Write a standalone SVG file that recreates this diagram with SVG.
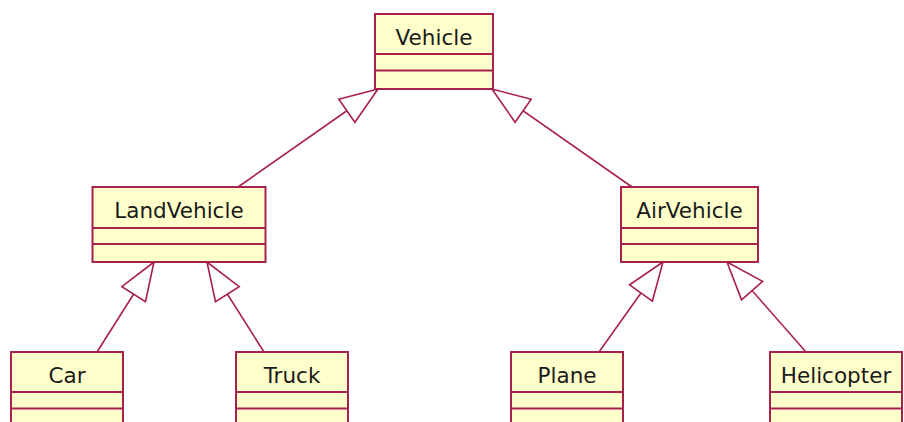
<svg xmlns="http://www.w3.org/2000/svg" width="904" height="422" viewBox="0 0 904 422">
<style>
.box{fill:#FFFFCC;stroke:#A8204E;stroke-width:2}
.div{stroke:#A8204E;stroke-width:2}
.lbl{font-family:"DejaVu Sans",Verdana,sans-serif;font-size:21.5px;fill:#1a1a1a;text-anchor:middle}
.conn{fill:none;stroke:#A8204E;stroke-width:1.6;marker-end:url(#gen)}
</style>
<defs>
<marker id="gen" markerUnits="userSpaceOnUse" markerWidth="40" markerHeight="30" refX="38" refY="15" orient="auto" overflow="visible">
<path d="M38,15 L0,1 L0,29 Z" fill="#FFFFFF" stroke="#A8204E" stroke-width="1.6" stroke-linejoin="miter"/>
</marker>
</defs>
<g id="connectors">
<line class="conn" x1="238" y1="187" x2="378" y2="89"/>
<line class="conn" x1="632" y1="187" x2="492" y2="89"/>
<line class="conn" x1="97" y1="352" x2="154" y2="262"/>
<line class="conn" x1="264" y1="352" x2="207" y2="262"/>
<line class="conn" x1="599" y1="352" x2="663" y2="262"/>
<line class="conn" x1="806" y1="352" x2="727" y2="262"/>
</g>
<g id="Vehicle">
<rect class="box" x="375" y="14" width="118" height="75"/>
<line class="div" x1="375" y1="54" x2="493" y2="54"/>
<line class="div" x1="375" y1="70.5" x2="493" y2="70.5"/>
<text class="lbl" x="434" y="44.5">Vehicle</text>
</g>
<g id="LandVehicle">
<rect class="box" x="92.5" y="187" width="173" height="75"/>
<line class="div" x1="92.5" y1="228" x2="265.5" y2="228"/>
<line class="div" x1="92.5" y1="244" x2="265.5" y2="244"/>
<text class="lbl" x="179" y="217.5">LandVehicle</text>
</g>
<g id="AirVehicle">
<rect class="box" x="621" y="187" width="137" height="75"/>
<line class="div" x1="621" y1="228" x2="758" y2="228"/>
<line class="div" x1="621" y1="244" x2="758" y2="244"/>
<text class="lbl" x="689.5" y="217.5">AirVehicle</text>
</g>
<g id="Car">
<rect class="box" x="11" y="352" width="112" height="75"/>
<line class="div" x1="11" y1="392" x2="123" y2="392"/>
<line class="div" x1="11" y1="408.5" x2="123" y2="408.5"/>
<text class="lbl" x="67" y="382.5">Car</text>
</g>
<g id="Truck">
<rect class="box" x="236" y="352" width="112" height="75"/>
<line class="div" x1="236" y1="392" x2="348" y2="392"/>
<line class="div" x1="236" y1="408.5" x2="348" y2="408.5"/>
<text class="lbl" x="292" y="382.5">Truck</text>
</g>
<g id="Plane">
<rect class="box" x="511" y="352" width="112" height="75"/>
<line class="div" x1="511" y1="392" x2="623" y2="392"/>
<line class="div" x1="511" y1="408.5" x2="623" y2="408.5"/>
<text class="lbl" x="567" y="382.5">Plane</text>
</g>
<g id="Helicopter">
<rect class="box" x="770" y="352" width="132" height="75"/>
<line class="div" x1="770" y1="392" x2="902" y2="392"/>
<line class="div" x1="770" y1="408.5" x2="902" y2="408.5"/>
<text class="lbl" x="836" y="382.5">Helicopter</text>
</g>
</svg>
